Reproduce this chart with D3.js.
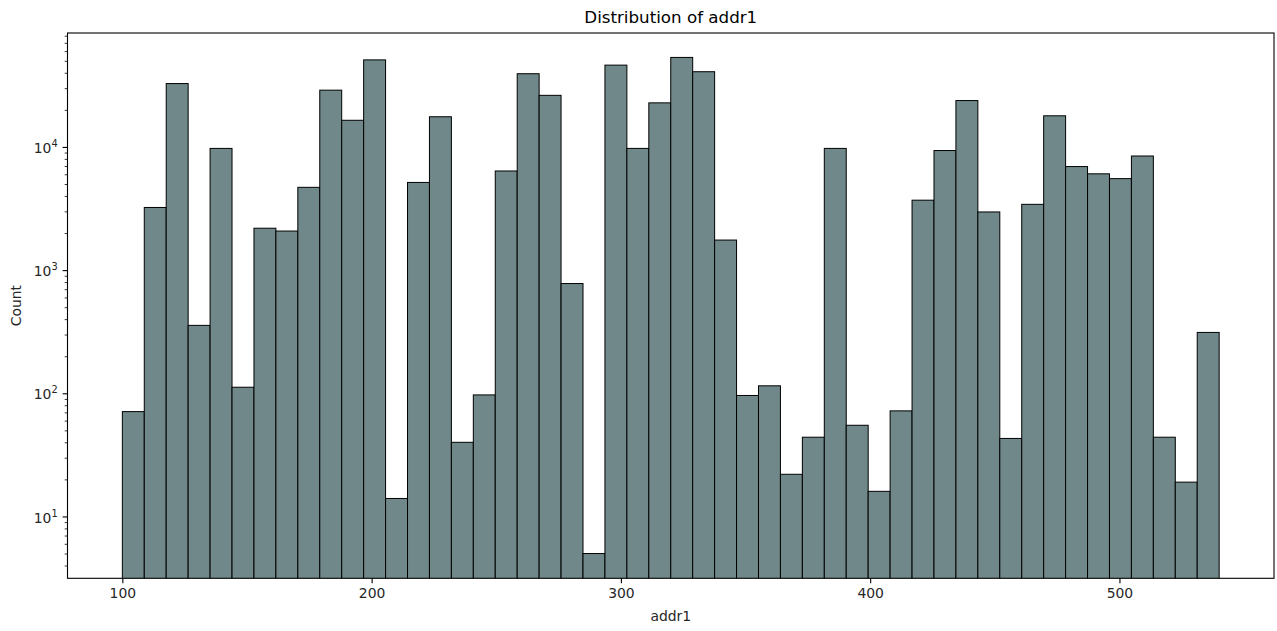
<!DOCTYPE html>
<html>
<head>
<meta charset="utf-8">
<script src="https://cdn.jsdelivr.net/npm/d3@7"></script>
<style>
  body { margin: 0; background: #fff; }
  svg { display: block; font-family: "DejaVu Sans", sans-serif; }
</style>
</head>
<body>
<script>
// histogram of addr1, 50 bins from 100 to 540, log count axis
var binEdges = [100, 108.8, 117.6, 126.4, 135.2, 144, 152.8, 161.6, 170.4, 179.2,
                188, 196.8, 205.6, 214.4, 223.2, 232, 240.8, 249.6, 258.4, 267.2,
                276, 284.8, 293.6, 302.4, 311.2, 320, 328.8, 337.6, 346.4, 355.2,
                364, 372.8, 381.6, 390.4, 399.2, 408, 416.8, 425.6, 434.4, 443.2,
                452, 460.8, 469.6, 478.4, 487.2, 496, 504.8, 513.6, 522.4, 531.2, 540];
var counts = [71, 3225, 32700, 356, 9730, 112, 2188, 2076, 4700, 28900,
              16460, 50900, 14, 5150, 17580, 40, 97, 6380, 39300, 26240,
              778, 5, 46150, 9730, 22800, 53300, 40800, 1754, 96, 115,
              22, 44, 9730, 55, 16, 72, 3696, 9350, 23800, 2966,
              43, 3420, 17900, 6930, 6050, 5530, 8440, 44, 19, 312];
var xTicks = [100, 200, 300, 400, 500];
var yMajor = [10, 100, 1000, 10000];
var yMinor = [4, 5, 6, 7, 8, 9, 20, 30, 40, 50, 60, 70, 80, 90,
              200, 300, 400, 500, 600, 700, 800, 900,
              2000, 3000, 4000, 5000, 6000, 7000, 8000, 9000,
              20000, 30000, 40000, 50000, 60000, 70000, 80000];

var w = 1277, h = 631;
var pLeft = 67.5, pRight = 1274, pTop = 33, pBottom = 578.3;

var svg = d3.select('body').append('svg')
    .attr('width', w)
    .attr('height', h);

var xScale = d3.scaleLinear()
    .domain([78, 562])
    .range([pLeft, pRight]);
var yScale = d3.scaleLog()
    .domain([Math.pow(10, 0.498), Math.pow(10, 4.925)])
    .range([pBottom, pTop]);

svg.append('clipPath').attr('id', 'plot')
   .append('rect')
   .attr('x', pLeft).attr('y', pTop)
   .attr('width', pRight - pLeft).attr('height', pBottom - pTop);

svg.append('g')
   .attr('clip-path', 'url(#plot)')
   .selectAll('rect')
   .data(counts)
   .enter()
   .append('rect')
   .attr('x', function(d, i) { return xScale(binEdges[i]); })
   .attr('width', function(d, i) { return xScale(binEdges[i + 1]) - xScale(binEdges[i]); })
   .attr('y', function(d) { return yScale(d); })
   .attr('height', function(d) { return pBottom - yScale(d) + 2; })
   .attr('fill', '#708889')
   .attr('stroke', '#000')
   .attr('stroke-width', 1);

// x axis
var xAxis = svg.append('g')
   .attr('transform', 'translate(0,' + pBottom + ')')
   .call(d3.axisBottom(xScale).tickValues(xTicks).tickSize(4.9).tickPadding(4.5).tickFormat(d3.format('d')));
xAxis.select('.domain').remove();
xAxis.selectAll('line').attr('stroke', '#000').attr('stroke-width', 1.1);
xAxis.selectAll('text').attr('font-size', 13.9).attr('fill', '#262626')
     .attr('font-family', '"DejaVu Sans", sans-serif');

// y axis, minor ticks
var yMin = svg.append('g')
   .attr('transform', 'translate(' + pLeft + ',0)')
   .call(d3.axisLeft(yScale).tickValues(yMinor).tickSize(2.8).tickFormat(''));
yMin.select('.domain').remove();
yMin.selectAll('line').attr('stroke', '#000').attr('stroke-width', 0.8);

// y axis, major ticks with 10^n labels
var yMaj = svg.append('g')
   .attr('transform', 'translate(' + pLeft + ',0)')
   .call(d3.axisLeft(yScale).tickValues(yMajor).tickSize(4.9).tickPadding(4.9).tickFormat(''));
yMaj.select('.domain').remove();
yMaj.selectAll('line').attr('stroke', '#000').attr('stroke-width', 1.1);
yMaj.selectAll('text')
    .attr('font-size', 13.9)
    .attr('fill', '#262626')
    .attr('font-family', '"DejaVu Sans", sans-serif')
    .attr('dy', '0.4em')
    .each(function(d) {
        var t = d3.select(this);
        t.append('tspan').text('10');
        t.append('tspan')
         .attr('font-size', 9.8)
         .attr('dy', '-0.6em')
         .text(Math.round(Math.log10(d)));
    });

// frame
svg.append('rect')
   .attr('x', pLeft).attr('y', pTop)
   .attr('width', pRight - pLeft).attr('height', pBottom - pTop)
   .attr('fill', 'none')
   .attr('stroke', '#000')
   .attr('stroke-width', 1.1);

svg.append('text')
   .attr('x', (pLeft + pRight) / 2).attr('y', 23)
   .attr('text-anchor', 'middle')
   .attr('font-size', 16.7)
   .attr('fill', '#000')
   .text('Distribution of addr1');

svg.append('text')
   .attr('x', (pLeft + pRight) / 2).attr('y', 621)
   .attr('text-anchor', 'middle')
   .attr('font-size', 13.9)
   .attr('fill', '#262626')
   .text('addr1');

svg.append('text')
   .attr('transform', 'translate(21,' + (pTop + pBottom) / 2 + ') rotate(-90)')
   .attr('text-anchor', 'middle')
   .attr('font-size', 13.9)
   .attr('fill', '#262626')
   .text('Count');
</script>
</body>
</html>
